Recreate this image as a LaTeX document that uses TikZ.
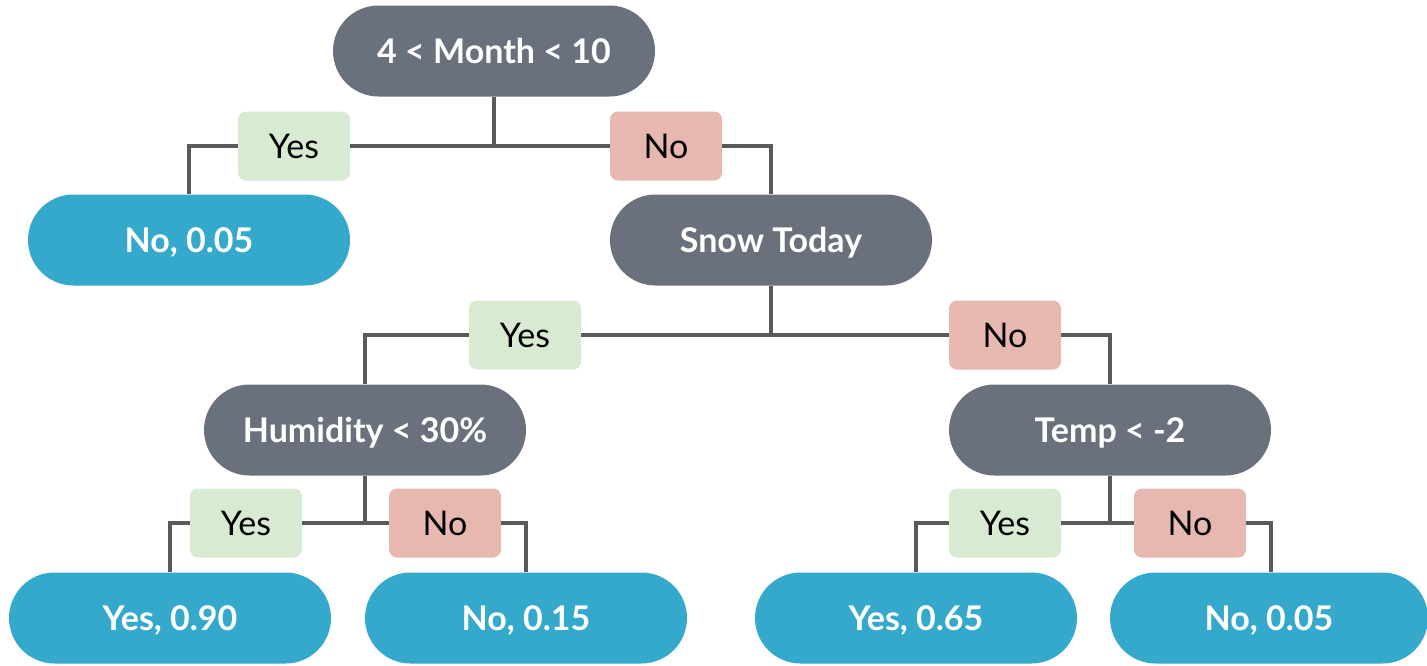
\documentclass[tikz,border=0pt]{standalone}
\usepackage{fontspec}
\setmainfont{Lato}
\definecolor{decgray}{HTML}{6B717C}
\definecolor{leafblue}{HTML}{34A9CC}
\definecolor{yesgreen}{HTML}{D9EAD3}
\definecolor{nopink}{HTML}{E6B8AF}
\definecolor{linegray}{HTML}{5A5A5A}
\tikzset{
  pill/.style={rectangle, rounded corners=45.5pt, minimum width=322pt, minimum height=91pt, inner sep=0pt, text height=24.5pt, text depth=0pt, text=white, font=\fontsize{34}{38}\selectfont\bfseries},
  decision/.style={pill, fill=decgray},
  leaf/.style={pill, fill=leafblue},
  lbl/.style={rectangle, rounded corners=8pt, minimum width=112pt, minimum height=69pt, inner sep=0pt, text height=24pt, text depth=0pt, text=black, font=\fontsize{34}{38}\selectfont},
  yeslbl/.style={lbl, fill=yesgreen},
  nolbl/.style={lbl, fill=nopink},
  conn/.style={draw=linegray, line width=3.6pt}
}
\begin{document}
\begin{tikzpicture}[x=1pt,y=-1pt]
\useasboundingbox (0,0) rectangle (1427,665);
% nodes
\node[decision] (root) at (494,51) {4 < Month < 10};
\node[yeslbl] (y1) at (294,146) {Yes};
\node[nolbl] (n1) at (666,146) {No};
\node[leaf] (l1) at (189,240) {No, 0.05};
\node[decision] (snow) at (771,240) {Snow Today};
\node[yeslbl] (y2) at (525,335) {Yes};
\node[nolbl] (n2) at (1005,335) {No};
\node[decision] (hum) at (365,430) {Humidity < 30\%};
\node[decision] (temp) at (1110,430) {Temp < -2};
\node[yeslbl] (y3) at (246,523) {Yes};
\node[nolbl] (n3) at (445,523) {No};
\node[yeslbl] (y4) at (1005,523) {Yes};
\node[nolbl] (n4) at (1190,523) {No};
\node[leaf] (l2) at (170,618) {Yes, 0.90};
\node[leaf] (l3) at (526,618) {No, 0.15};
\node[leaf] (l4) at (916,618) {Yes, 0.65};
\node[leaf, minimum width=318pt] (l5) at (1269,618) {No, 0.05};
% connectors
\draw[conn] (root.south) |- (y1.east);
\draw[conn] (y1.west) -| (l1.north);
\draw[conn] (root.south) |- (n1.west);
\draw[conn] (n1.east) -| (snow.north);
\draw[conn] (snow.south) |- (y2.east);
\draw[conn] (y2.west) -| (hum.north);
\draw[conn] (snow.south) |- (n2.west);
\draw[conn] (n2.east) -| (temp.north);
\draw[conn] (hum.south) |- (y3.east);
\draw[conn] (y3.west) -| (l2.north);
\draw[conn] (hum.south) |- (n3.west);
\draw[conn] (n3.east) -| (l3.north);
\draw[conn] (temp.south) |- (y4.east);
\draw[conn] (y4.west) -| (l4.north);
\draw[conn] (temp.south) |- (n4.west);
\draw[conn] (n4.east) -| ([xshift=2pt]l5.north);
\end{tikzpicture}
\end{document}
